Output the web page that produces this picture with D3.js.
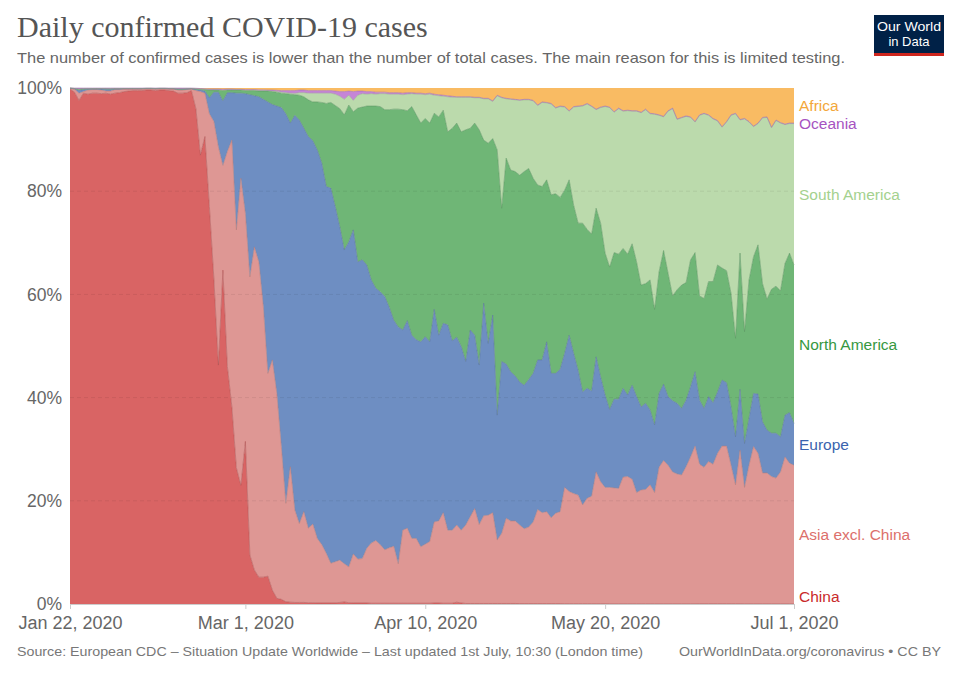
<!DOCTYPE html>
<html><head><meta charset="utf-8">
<script src="https://cdn.jsdelivr.net/npm/d3@7"></script>
<style>
html,body{margin:0;padding:0;background:#fff;}
svg{display:block;font-family:"Liberation Sans",Arial,sans-serif;}
</style></head>
<body>
<svg id="chart" width="960" height="678"></svg>
<script>
// ---- DATA (percent; each array is the cumulative top edge of a region) ----
const startDate = Date.UTC(2020, 0, 22);
const endDate = Date.UTC(2020, 6, 2);
const regions = ["China", "Asia excl. China", "Europe", "North America", "South America", "Oceania", "Africa"];

const chinaTop = [
99.8,99.2,97.6,99.0,98.8,99.0,99.0,98.9,99.0,98.8,
99.0,99.1,99.3,99.4,99.5,99.5,99.5,99.6,99.6,99.5,
99.6,99.6,99.5,99.4,99.0,99.0,99.1,99.5,96.0,87.0,
90.6,77.0,63.0,46.3,64.7,46.0,38.2,26.4,23.0,31.5,
9.5,6.6,5.2,5.2,5.4,2.7,1.1,0.9,0.45,0.35,
0.3,0.3,0.3,0.25,0.25,0.2,0.2,0.2,0.2,0.2,
0.3,0.4,0.25,0.2,0.2,0.2,0.2,0.15,0.15,0.15,
0.15,0.15,0.15,0.15,0.15,0.15,0.15,0.15,0.15,0.15,
0.15,0.2,0.2,0.15,0.15,0.15,0.35,0.2,0.1,0.1,
0.1,0.1,0.1,0.1,0.1,0.1,0.1,0.1,0.1,0.1,
0.08,0.08,0.08,0.08,0.08,0.08,0.08,0.08,0.08,0.08,
0.06,0.06,0.06,0.06,0.06,0.06,0.06,0.06,0.06,0.06,
0.05,0.05,0.05,0.05,0.05,0.05,0.05,0.05,0.05,0.05,
0.05,0.05,0.05,0.05,0.05,0.05,0.05,0.05,0.05,0.05,
0.06,0.06,0.06,0.06,0.06,0.06,0.06,0.06,0.06,0.06,
0.05,0.05,0.05,0.05,0.05,0.05,0.05,0.05,0.05,0.05,
0.05,0.05];

const asiaTop = [
99.9,99.8,99.0,99.3,99.6,99.7,99.7,99.6,99.4,99.4,
99.7,99.7,99.8,99.8,99.8,99.8,99.8,99.85,99.85,99.8,
99.85,99.85,99.8,99.8,99.6,99.6,99.7,99.8,99.5,99.3,
99.0,95.0,93.5,88.6,85.0,87.7,89.9,72.5,82.5,75.7,
63.4,69.2,66.3,57.6,44.7,47.3,40.8,30.5,19.5,26.6,
18.2,15.6,17.9,14.7,15.5,12.7,11.5,9.8,7.9,8.2,
8.5,7.8,7.2,9.7,8.7,8.8,10.8,11.8,12.3,11.5,
10.5,10.9,11.2,7.8,14.3,14.7,12.7,12.7,11.1,11.6,
12.1,15.9,16.1,17.7,14.3,14.3,15.3,14.3,15.3,16.9,
18.5,15.4,17.1,17.2,17.7,12.4,13.7,16.6,16.1,16.1,
15.3,14.6,14.9,15.9,18.3,17.7,17.9,16.7,17.6,17.9,
22.6,21.8,21.4,21.1,19.2,20.5,20.9,25.6,23.7,22.6,
22.6,22.5,22.4,24.6,24.7,24.2,21.6,22.1,22.2,23.1,
21.6,26.5,27.8,26.9,25.6,25.2,25.0,26.6,28.5,30.6,
27.1,26.5,27.6,27.1,29.2,30.6,30.6,26.9,23.1,29.8,
22.6,26.9,30.5,29.2,25.4,25.4,24.7,24.4,25.6,28.5,
27.3,26.9];

const europeTop = [
99.95,99.85,99.5,99.7,99.75,99.8,99.8,99.8,99.75,99.7,
99.8,99.8,99.85,99.85,99.85,99.85,99.85,99.9,99.9,99.85,
99.9,99.9,99.85,99.85,99.7,99.7,99.8,99.85,99.7,99.6,
99.4,98.1,99.2,99.2,97.5,99.1,99.1,99.0,99.0,98.9,
98.7,98.5,98.3,97.8,97.3,96.8,96.5,96.2,95.0,93.2,
94.7,93.8,92.2,90.6,89.8,88.0,85.4,80.9,80.6,77.0,
73.1,68.6,70.2,72.5,66.3,66.7,65.7,62.8,61.2,60.5,
59.6,57.5,55.0,53.7,53.1,54.9,52.1,51.2,50.8,51.8,
50.8,57.1,52.1,54.4,54.1,51.0,51.7,49.9,47.0,53.1,
52.1,46.3,58.3,50.5,56.0,36.6,47.0,46.5,45.0,44.2,
43.0,42.4,43.5,44.7,47.3,47.3,50.8,44.7,44.7,45.5,
48.6,52.1,48.6,45.3,41.1,41.8,41.3,47.9,44.0,40.5,
37.7,39.7,39.7,41.8,40.5,42.4,40.2,38.2,38.9,37.6,
34.7,40.8,42.6,40.2,39.4,38.9,37.9,39.5,42.1,45.0,
39.5,37.9,40.2,39.0,41.1,43.4,42.9,38.2,32.4,41.6,
31.1,36.0,40.8,40.7,35.3,33.7,33.1,33.1,32.4,36.6,
37.1,35.0];

const northAmericaTop = [
99.98,99.9,99.75,99.85,99.85,99.88,99.88,99.88,99.85,99.85,
99.88,99.88,99.9,99.9,99.9,99.9,99.9,99.93,99.93,99.9,
99.93,99.93,99.9,99.9,99.8,99.8,99.85,99.9,99.8,99.75,
99.7,99.6,99.6,99.6,99.5,99.6,99.6,99.6,99.6,99.5,
99.5,99.5,99.4,99.4,99.4,99.3,99.2,99.0,98.9,98.8,
98.7,98.6,98.3,97.7,97.3,97.3,97.2,97.0,97.2,96.6,
96.0,94.8,96.7,95.4,96.1,96.3,96.5,96.5,96.5,96.4,
95.8,95.8,95.9,95.9,95.8,95.6,96.4,94.8,93.2,94.1,
93.2,95.1,94.4,95.7,91.5,92.2,93.2,91.5,91.9,92.2,
93.2,91.9,89.9,89.3,90.2,88.0,76.7,86.4,84.1,83.8,
83.1,83.8,84.4,82.5,81.2,80.9,82.2,79.3,79.5,78.8,
80.2,82.2,77.3,73.8,73.8,72.6,71.7,76.7,73.8,68.0,
65.3,68.1,67.8,68.9,67.8,69.8,66.3,61.8,62.1,62.8,
57.1,64.4,68.5,64.1,59.7,60.9,61.8,62.3,66.7,68.1,
59.7,59.2,62.5,62.5,65.7,65.1,64.6,60.2,51.5,68.0,
52.8,62.8,67.3,69.6,62.1,59.1,61.0,61.6,60.7,66.0,
68.0,65.7];

const southAmericaTop = [
99.98,99.9,99.75,99.85,99.85,99.88,99.88,99.88,99.85,99.85,
99.88,99.88,99.9,99.9,99.9,99.9,99.9,99.93,99.93,99.9,
99.93,99.93,99.9,99.9,99.8,99.8,99.85,99.9,99.85,99.8,
99.75,99.65,99.65,99.65,99.55,99.65,99.65,99.65,99.65,99.55,
99.55,99.6,99.5,99.5,99.5,99.4,99.3,99.2,99.1,99.0,
98.95,99.1,99.1,99.0,99.0,99.0,99.0,99.0,99.0,98.8,
98.4,97.8,98.6,97.6,98.6,98.9,98.8,98.9,98.8,98.9,
98.9,98.8,98.8,98.8,98.7,98.8,98.9,98.8,98.8,98.7,
98.8,98.6,98.5,98.4,98.3,98.2,98.2,98.2,98.2,98.2,
98.1,98.1,97.9,97.9,97.4,98.5,98.1,97.9,97.8,97.7,
97.6,97.7,97.7,97.5,96.6,97.2,97.1,96.9,96.1,96.4,
96.3,95.5,96.3,96.4,96.5,96.9,96.4,95.8,96.2,96.4,
96.2,95.3,96.0,95.5,95.6,95.5,95.5,95.2,95.8,95.0,
94.9,94.7,94.4,95.5,96.0,93.9,94.2,94.5,94.3,93.4,
94.7,95.0,94.7,94.0,93.6,92.4,93.4,94.7,95.0,93.8,
94.0,93.4,92.5,93.1,94.2,94.3,92.3,93.7,93.2,92.9,
93.1,93.1];

const oceaniaTop = [
99.99,99.99,99.99,99.99,99.99,99.99,99.99,99.99,99.99,99.99,
99.99,99.99,99.99,99.99,99.99,99.99,99.99,99.99,99.99,99.99,
99.99,99.99,99.99,99.99,99.99,99.99,99.99,99.99,99.95,99.9,
99.85,99.8,99.8,99.8,99.75,99.8,99.8,99.75,99.75,99.7,
99.7,99.7,99.65,99.65,99.6,99.6,99.55,99.5,99.5,99.5,
99.5,99.6,99.6,99.5,99.5,99.5,99.5,99.5,99.5,99.4,
99.3,99.3,99.4,99.3,99.4,99.4,99.3,99.3,99.2,99.2,
99.2,99.1,99.1,99.1,99.0,99.1,99.1,99.0,99.0,98.9,
99.0,98.8,98.7,98.6,98.5,98.4,98.3,98.3,98.3,98.3,
98.2,98.2,98.0,98.0,97.5,98.6,98.2,98.0,97.9,97.8,
97.7,97.8,97.8,97.6,96.7,97.3,97.2,97.0,96.2,96.5,
96.4,95.6,96.4,96.5,96.6,97.0,96.5,95.9,96.3,96.5,
96.3,95.4,96.1,95.6,95.7,95.6,95.6,95.3,95.9,95.1,
95.0,94.8,94.5,95.6,96.1,94.0,94.3,94.6,94.4,93.5,
94.8,95.1,94.8,94.1,93.7,92.5,93.5,94.8,95.1,93.9,
94.1,93.5,92.6,93.2,94.3,94.4,92.4,93.8,93.3,93.0,
93.2,93.2];

const yTickValues = [0, 0.2, 0.4, 0.6, 0.8, 1];
const xTickLabels = ["2020-01-22", "2020-03-01", "2020-04-10", "2020-05-20", "2020-07-01"];

const fillColors = ["#D96464", "#DE9794", "#6E8EC2", "#6FB676", "#BBDAAC", "#C585D6", "#F9BB63"];
const labelColors = ["#C92A2A", "#DC706B", "#3A63AE", "#36983F", "#A4D18E", "#A653C1", "#F3A73A"];

// ---- build share table from the top edges ----
const dates = d3.utcDay.range(startDate, endDate);
const tops = [chinaTop, asiaTop, europeTop, northAmericaTop, southAmericaTop, oceaniaTop, dates.map(() => 100)];
const table = dates.map((d, i) => {
  const row = {date: d};
  regions.forEach((r, k) => {
    const lower = k === 0 ? 0 : tops[k - 1][i];
    row[r] = Math.max(0, tops[k][i] - lower);
  });
  return row;
});

const svg = d3.select("#chart");
const W = 960, H = 678;
const m = {left: 70, right: 166, top: 88, bottom: 74};
const x = d3.scaleUtc().domain([startDate, Date.UTC(2020, 6, 1)]).range([m.left, W - m.right]);
const y = d3.scaleLinear().domain([0, 1]).range([H - m.bottom, m.top]);

const stack = d3.stack().keys(regions).offset(d3.stackOffsetExpand);
const series = stack(table);

const area = d3.area().x(d => x(d.data.date)).y0(d => y(d[0])).y1(d => y(d[1])).curve(d3.curveLinear);
const topLine = d3.line().x(d => x(d.data.date)).y(d => y(d[1]));

const g = svg.append("g");
g.selectAll("path.area").data(series).join("path")
  .attr("class", "area")
  .attr("d", area)
  .attr("fill", (d, i) => fillColors[i]);
g.selectAll("path.edge").data(series.slice(0, 6)).join("path")
  .attr("class", "edge")
  .attr("d", topLine)
  .attr("fill", "none")
  .attr("stroke", (d, i) => d3.color(fillColors[i]).darker(0.6))
  .attr("stroke-width", 0.7)
  .attr("stroke-opacity", 0.8);

// gridlines (over the areas, faint dashes)
svg.append("g").selectAll("line").data(yTickValues.filter(v => v > 0 && v < 1)).join("line")
  .attr("x1", m.left).attr("x2", W - m.right)
  .attr("y1", d => y(d)).attr("y2", d => y(d))
  .attr("stroke", "#000").attr("stroke-opacity", 0.07)
  .attr("stroke-dasharray", "4,3");

const sans = "'Liberation Sans', Arial, sans-serif";

// y axis labels
const yAxis = d3.axisLeft(y).tickValues(yTickValues).tickFormat(d3.format(".0%")).tickSize(0).tickPadding(8);
const ya = svg.append("g").attr("transform", `translate(${m.left},0)`).call(yAxis);
ya.select(".domain").remove();
ya.selectAll("text").attr("font-family", sans).attr("font-size", 17.5).attr("fill", "#666").attr("dy", "0.32em");

// x axis
const parse = d3.utcParse("%Y-%m-%d");
const xAxis = d3.axisBottom(x).tickValues(xTickLabels.map(parse)).tickFormat(d3.utcFormat("%b %-d, %Y")).tickSize(5).tickPadding(7);
const xa = svg.append("g").attr("transform", `translate(0,${H - m.bottom})`).call(xAxis);
xa.select(".domain").attr("stroke", "#ccc");
xa.selectAll(".tick line").attr("stroke", "#ccc");
xa.selectAll("text").attr("font-family", sans).attr("font-size", 18).attr("fill", "#666");

// series labels at the right end
const last = series.map((s, i) => ({name: regions[i], color: labelColors[i], y: y((s[s.length - 1][0] + s[s.length - 1][1]) / 2)}));
last.sort((a, b) => a.y - b.y);
for (let i = 1; i < last.length; i++) if (last[i].y < last[i - 1].y + 17) last[i].y = last[i - 1].y + 17;
const maxY = H - m.bottom - 7;
if (last[last.length - 1].y > maxY) {
  last[last.length - 1].y = maxY;
  for (let i = last.length - 2; i >= 0; i--) if (last[i].y > last[i + 1].y - 17) last[i].y = last[i + 1].y - 17;
}
svg.append("g").selectAll("text").data(last).join("text")
  .attr("x", W - m.right + 5).attr("y", d => d.y).attr("dy", "0.35em")
  .attr("font-family", sans).attr("font-size", 15.5).attr("fill", d => d.color)
  .text(d => d.name);

// title & subtitle
svg.append("text").attr("x", 17).attr("y", 37)
  .attr("font-family", "'Liberation Serif', 'DejaVu Serif', serif").attr("font-size", 30).attr("fill", "#555")
  .text("Daily confirmed COVID-19 cases");
svg.append("text").attr("x", 17).attr("y", 63)
  .attr("font-family", sans).attr("font-size", 15).attr("fill", "#666")
  .attr("textLength", 828).attr("lengthAdjust", "spacingAndGlyphs")
  .text("The number of confirmed cases is lower than the number of total cases. The main reason for this is limited testing.");

// logo
const logo = svg.append("g").attr("transform", "translate(874,15)");
logo.append("rect").attr("width", 70).attr("height", 41).attr("fill", "#002147");
logo.append("rect").attr("y", 38).attr("width", 70).attr("height", 3).attr("fill", "#CE261E");
logo.append("text").attr("x", 35).attr("y", 16).attr("text-anchor", "middle").attr("fill", "#fff")
  .attr("font-family", sans).attr("font-size", 13).attr("textLength", 64).attr("lengthAdjust", "spacingAndGlyphs").text("Our World");
logo.append("text").attr("x", 35).attr("y", 31).attr("text-anchor", "middle").attr("fill", "#fff")
  .attr("font-family", sans).attr("font-size", 13).text("in Data");

// footer
svg.append("text").attr("x", 17).attr("y", 656)
  .attr("font-family", sans).attr("font-size", 13).attr("fill", "#777")
  .attr("textLength", 626).attr("lengthAdjust", "spacingAndGlyphs")
  .text("Source: European CDC – Situation Update Worldwide – Last updated 1st July, 10:30 (London time)");
svg.append("text").attr("x", 941).attr("y", 656).attr("text-anchor", "end")
  .attr("font-family", sans).attr("font-size", 13).attr("fill", "#777")
  .attr("textLength", 262).attr("lengthAdjust", "spacingAndGlyphs")
  .text("OurWorldInData.org/coronavirus • CC BY");
</script>
</body></html>
